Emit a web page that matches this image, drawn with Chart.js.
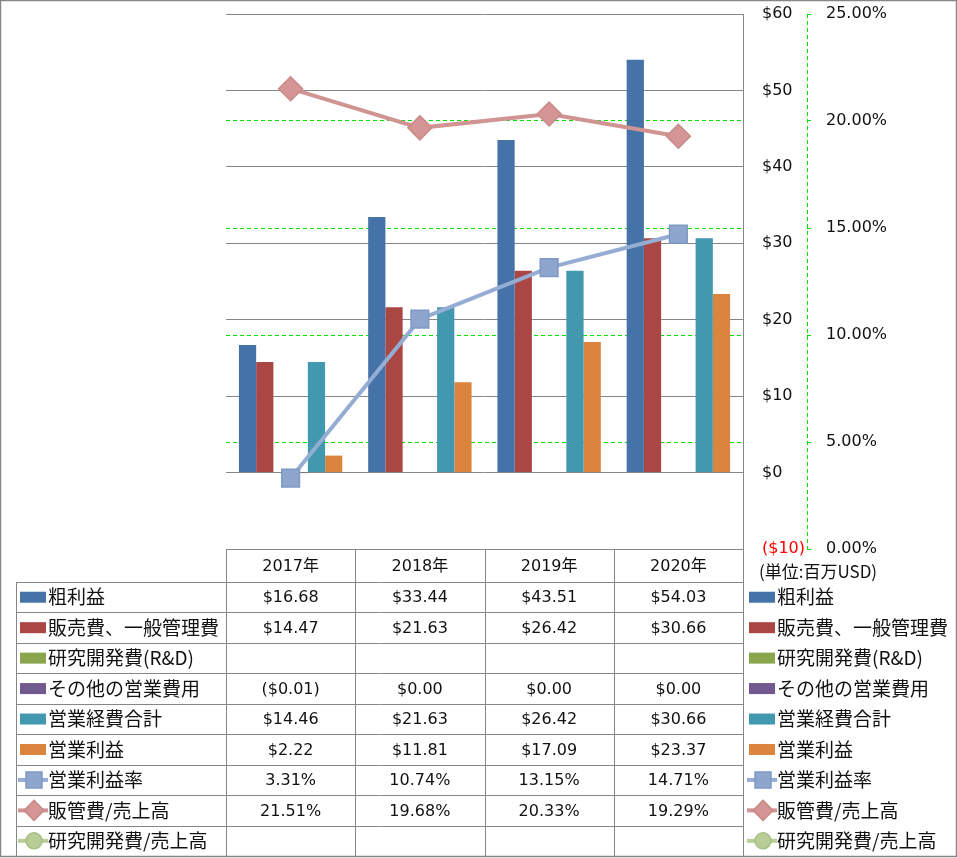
<!DOCTYPE html>
<html lang="ja">
<head>
<meta charset="UTF-8">
<title>損益推移</title>
<script src="https://cdn.jsdelivr.net/npm/chart.js"></script>
<style>
    body { margin: 0; background: #fff; }
    #wrap { width: 957px; height: 858px; }
</style>
</head>
<body>
<div id="wrap"><canvas id="myChart" width="957" height="858"></canvas></div>
<script>
// データ (単位: 百万USD / %)
const years = ['2017年', '2018年', '2019年', '2020年'];
const grossProfit = [16.68, 33.44, 43.51, 54.03];
const sgaExpense = [14.47, 21.63, 26.42, 30.66];
const rndExpense = [null, null, null, null];
const otherExpense = [-0.01, 0, 0, 0];
const totalOpex = [14.46, 21.63, 26.42, 30.66];
const operatingIncome = [2.22, 11.81, 17.09, 23.37];
const operatingMargin = [3.31, 10.74, 13.15, 14.71];
const sgaRatio = [21.51, 19.68, 20.33, 19.29];
const rndRatio = [null, null, null, null];
const dollarTicks = [-10, 0, 10, 20, 30, 40, 50, 60];
const percentTicks = [0, 5, 10, 15, 20, 25];

const NUM_FONT = "'DejaVu Sans', 'Noto Sans CJK JP', sans-serif";
const JP_FONT = "'Noto Sans CJK JP', 'DejaVu Sans', sans-serif";
const TEXT = '#111';
const LINE = '#868686';

function fmtDollar(v) {
    if (v === null || v === undefined) return '';
    return v < 0 ? '($' + (-v).toFixed(2) + ')' : '$' + v.toFixed(2);
}
function fmtPct(v) {
    if (v === null || v === undefined) return '';
    return v.toFixed(2) + '%';
}

function bar(label, data, color) {
    return { type: 'bar', label, data, backgroundColor: color, yAxisID: 'y', order: 1, fmt: fmtDollar };
}
function line(label, data, color, fill, edge, style, radius) {
    return {
        type: 'line', label, data, yAxisID: 'y1', order: 0, fmt: fmtPct,
        borderColor: color, borderWidth: 4, pointStyle: style, pointRadius: radius,
        pointBackgroundColor: fill, pointBorderColor: edge, pointBorderWidth: 1.5
    };
}

function drawMarker(ctx, style, x, y, r) {
    ctx.beginPath();
    if (style === 'rect') {
        ctx.rect(x - r, y - r, 2 * r, 2 * r);
    } else if (style === 'rectRot') {
        ctx.moveTo(x, y - r); ctx.lineTo(x + r, y); ctx.lineTo(x, y + r); ctx.lineTo(x - r, y); ctx.closePath();
    } else {
        ctx.arc(x, y, r, 0, Math.PI * 2);
    }
    ctx.fill();
    ctx.stroke();
}

function drawKey(ctx, ds, x, cy) {
    if (ds.type === 'bar') {
        ctx.fillStyle = ds.backgroundColor;
        ctx.fillRect(x, cy - 5.5, 26, 11);
    } else {
        ctx.strokeStyle = ds.borderColor;
        ctx.lineWidth = 4;
        ctx.beginPath(); ctx.moveTo(x - 2, cy); ctx.lineTo(x + 28, cy); ctx.stroke();
        ctx.fillStyle = ds.pointBackgroundColor;
        ctx.strokeStyle = ds.pointBorderColor;
        ctx.lineWidth = 1.5;
        const r = ds.pointStyle === 'rect' ? 8 : (ds.pointStyle === 'rectRot' ? 10 : 8);
        drawMarker(ctx, ds.pointStyle, x + 14, cy, r);
    }
}

const tablePlugin = {
    id: 'dataTable',
    afterDraw(chart) {
        const ctx = chart.ctx;
        const a = chart.chartArea;
        const n = years.length;
        const colW = (a.right - a.left) / n;
        const top = a.bottom;
        const headBottom = 582;
        const rowH = 30.45;
        const labelLeft = 16;
        const sets = chart.data.datasets;
        const bottom = headBottom + rowH * sets.length;
        const px = v => Math.round(v) + 0.5;

        ctx.save();
        // 右軸の点線
        const y1 = chart.scales.y1;
        ctx.strokeStyle = '#00e000';
        ctx.lineWidth = 1;
        ctx.setLineDash([4, 3]);
        ctx.beginPath(); ctx.moveTo(px(y1.left), a.top); ctx.lineTo(px(y1.left), a.bottom); ctx.stroke();
        ctx.setLineDash([]);

        // 表の罫線
        ctx.strokeStyle = LINE;
        ctx.lineWidth = 1;
        ctx.beginPath();
        ctx.moveTo(a.left, px(top)); ctx.lineTo(a.right, px(top));
        for (let i = 0; i <= sets.length; i++) {
            const y = px(headBottom + rowH * i);
            ctx.moveTo(labelLeft, y); ctx.lineTo(a.right, y);
        }
        for (let i = 0; i <= n; i++) {
            const x = px(a.left + colW * i);
            ctx.moveTo(x, top); ctx.lineTo(x, bottom);
        }
        ctx.moveTo(px(labelLeft), headBottom); ctx.lineTo(px(labelLeft), bottom);
        ctx.stroke();

        ctx.textBaseline = 'middle';
        ctx.fillStyle = TEXT;
        ctx.textAlign = 'center';
        ctx.font = '16px ' + NUM_FONT;
        years.forEach((yr, i) => {
            ctx.fillText(yr, a.left + colW * (i + 0.5), (top + headBottom) / 2 + 1);
        });

        sets.forEach((ds, r) => {
            const cy = headBottom + rowH * (r + 0.5);
            ctx.textAlign = 'center';
            ctx.fillStyle = TEXT;
            ctx.font = '16px ' + NUM_FONT;
            ds.data.forEach((v, i) => {
                ctx.fillText(ds.fmt(v), a.left + colW * (i + 0.5), cy + 1);
            });
            // 凡例 (表内・右側)
            drawKey(ctx, ds, 20, cy);
            drawKey(ctx, ds, 749, cy);
            ctx.textAlign = 'left';
            ctx.fillStyle = TEXT;
            ctx.font = '19px ' + JP_FONT;
            ctx.fillText(ds.label, 48, cy);
            ctx.fillText(ds.label, 777, cy);
        });

        ctx.font = '17px ' + JP_FONT;
        ctx.textAlign = 'left';
        ctx.fillStyle = TEXT;
        ctx.fillText('(単位:百万USD)', 759, 572);

        // 外枠
        ctx.strokeStyle = LINE;
        ctx.strokeRect(0.5, 0.5, 956, 856);
        ctx.restore();
    }
};

function fitAxis(width) {
    return s => {
        s.width = width;
        s.paddingTop = 0;
        s.paddingBottom = 0;
    };
}

const ctx = document.getElementById('myChart').getContext('2d');
const chart = new Chart(ctx, {
    data: {
        labels: years,
        datasets: [
            bar('粗利益', grossProfit, '#4572a7'),
            bar('販売費、一般管理費', sgaExpense, '#aa4643'),
            bar('研究開発費(R&D)', rndExpense, '#89a54e'),
            bar('その他の営業費用', otherExpense, '#71588f'),
            bar('営業経費合計', totalOpex, '#4198af'),
            bar('営業利益', operatingIncome, '#db843d'),
            line('営業利益率', operatingMargin, '#95acd3', '#8ea6cd', '#7f99c4', 'rect', 12.5),
            line('販管費/売上高', sgaRatio, '#d09493', '#d59595', '#c98a89', 'rectRot', 12),
            line('研究開発費/売上高', rndRatio, '#b9cd96', '#b9cd96', '#a8bf84', 'circle', 8)
        ]
    },
    options: {
        responsive: false,
        animation: false,
        layout: { padding: { top: 13, bottom: 309, left: 226, right: 0 } },
        datasets: { bar: { categoryPercentage: 0.8, barPercentage: 1.0 } },
        plugins: { legend: { display: false }, tooltip: { enabled: false } },
        scales: {
            x: { display: false, offset: true },
            y: {
                position: 'right',
                min: dollarTicks[0],
                max: dollarTicks[dollarTicks.length - 1],
                afterBuildTicks: s => { s.ticks = dollarTicks.map(v => ({ value: v })); },
                afterFit: fitAxis(64),
                grid: { color: LINE, drawTicks: false },
                border: { display: true, color: LINE },
                ticks: {
                    padding: 19,
                    font: { size: 16, family: NUM_FONT },
                    color: c => (c.tick && c.tick.value < 0) ? '#ff0000' : TEXT,
                    callback: v => v < 0 ? '($' + (-v) + ')' : '$' + v
                }
            },
            y1: {
                position: 'right',
                min: percentTicks[0],
                max: percentTicks[percentTicks.length - 1],
                afterBuildTicks: s => { s.ticks = percentTicks.map(v => ({ value: v })); },
                afterFit: fitAxis(150),
                grid: {
                    color: c => (c.tick && (c.tick.value === 0 || c.tick.value === 25)) ? 'rgba(0,0,0,0)' : '#00e000',
                    tickColor: '#00e000',
                    tickLength: 4
                },
                border: { display: false, dash: [4, 3] },
                ticks: {
                    padding: 15,
                    font: { size: 16, family: NUM_FONT },
                    color: TEXT,
                    callback: v => v.toFixed(2) + '%'
                }
            }
        }
    },
    plugins: [tablePlugin]
});
</script>
</body>
</html>
